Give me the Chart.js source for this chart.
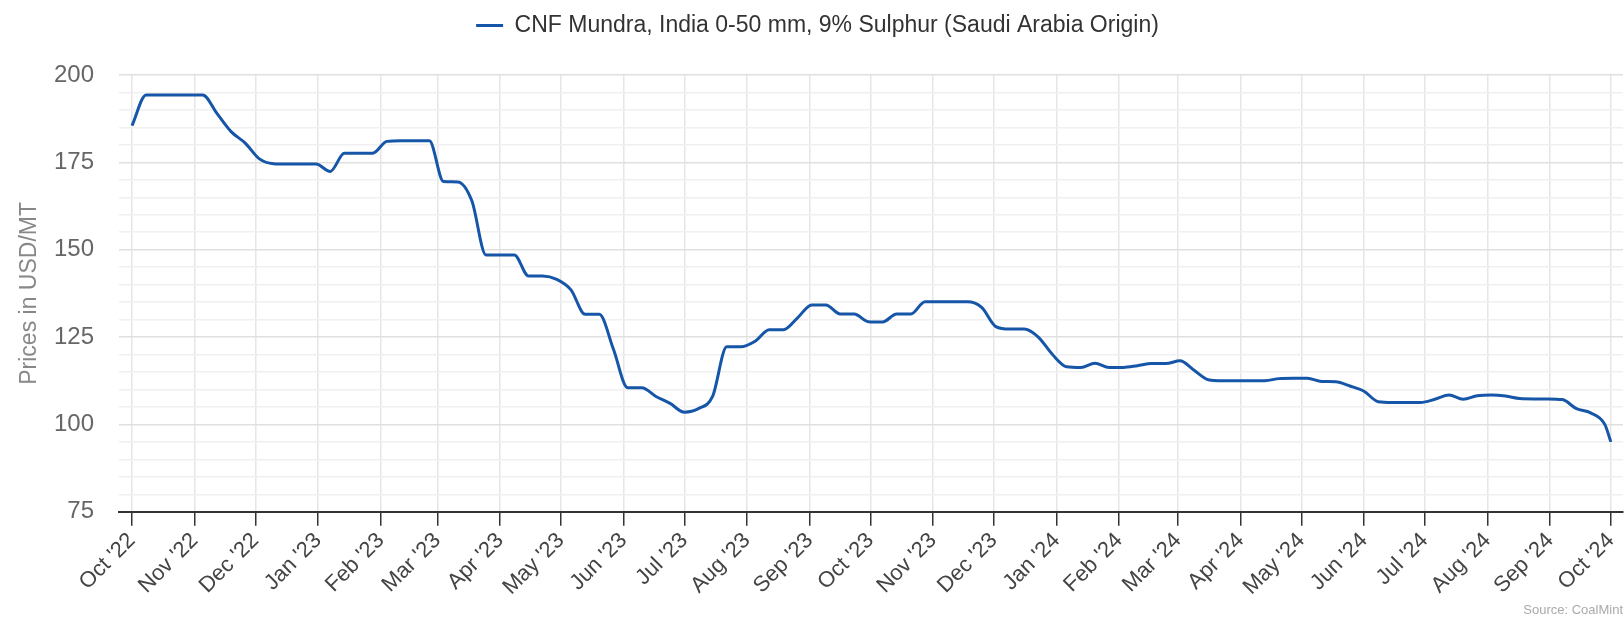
<!DOCTYPE html>
<html>
<head>
<meta charset="utf-8">
<script src="https://cdn.jsdelivr.net/npm/chart.js@4.4.1/dist/chart.umd.min.js"></script>
<style>
	body { margin: 0; background: #fff; }
	#wrap { width: 1624px; height: 626px; }
</style>
</head>
<body>
<div id="wrap"><canvas id="price_chart" width="1624" height="626"></canvas></div>
<script>
// weekly price points, CNF Mundra (USD/MT)
var dates = [
	'2022-10-01','2022-10-08','2022-10-15','2022-10-22','2022-10-29','2022-11-05','2022-11-12','2022-11-19','2022-11-26',
	'2022-12-03','2022-12-10','2022-12-17','2022-12-24','2022-12-31','2023-01-07','2023-01-14','2023-01-21','2023-01-28',
	'2023-02-04','2023-02-11','2023-02-18','2023-02-25','2023-03-04','2023-03-11','2023-03-18','2023-03-25','2023-04-01',
	'2023-04-08','2023-04-15','2023-04-22','2023-04-29','2023-05-06','2023-05-13','2023-05-20','2023-05-27','2023-06-03',
	'2023-06-10','2023-06-17','2023-06-24','2023-07-01','2023-07-08','2023-07-15','2023-07-22','2023-07-29','2023-08-05',
	'2023-08-12','2023-08-19','2023-08-26','2023-09-02','2023-09-09','2023-09-16','2023-09-23','2023-09-30','2023-10-07',
	'2023-10-14','2023-10-21','2023-10-28','2023-11-04','2023-11-11','2023-11-18','2023-11-25','2023-12-02','2023-12-09',
	'2023-12-16','2023-12-23','2023-12-30','2024-01-06','2024-01-13','2024-01-20','2024-01-27','2024-02-03','2024-02-10',
	'2024-02-17','2024-02-24','2024-03-02','2024-03-09','2024-03-16','2024-03-23','2024-03-30','2024-04-06','2024-04-13',
	'2024-04-20','2024-04-27','2024-05-04','2024-05-11','2024-05-18','2024-05-25','2024-06-01','2024-06-08','2024-06-15',
	'2024-06-22','2024-06-29','2024-07-06','2024-07-13','2024-07-20','2024-07-27','2024-08-03','2024-08-10','2024-08-17',
	'2024-08-24','2024-08-31','2024-09-07','2024-09-14','2024-09-21','2024-09-28','2024-10-01'
];
var prices = [
	185.5, 194.3, 194.3, 194.3, 194.3, 194.3, 189, 183.8, 180.5,
	176, 174.6, 174.5, 174.5, 174.5, 172.4, 177.6, 177.6, 177.6,
	181, 181.2, 181.2, 181.2, 169.5, 169.4, 164, 148.5, 148.5,
	148.5, 142.5, 142.5, 141.5, 138.5, 131.5, 131.5, 121.5, 110.5,
	110.5, 108, 106, 103.5, 104.5, 108, 122.2, 122.2, 123.8,
	127.1, 127.1, 130.5, 134.2, 134.2, 131.6, 131.6, 129.4, 129.3,
	131.6, 131.6, 135.1, 135.1, 135.1, 135.1, 133.5, 128, 127.3,
	127.3, 125, 120, 116.5, 116.3, 117.5, 116.3, 116.3, 116.8,
	117.4, 117.4, 118.2, 115.5, 112.8, 112.5, 112.5, 112.5, 112.5,
	113.1, 113.2, 113.2, 112.3, 112.2, 111, 109.5, 106.5, 106.3,
	106.3, 106.3, 107.2, 108.4, 107.2, 108.2, 108.4, 108.1, 107.4,
	107.3, 107.3, 107.1, 104.5, 103.3, 100, 95
];
var seriesName = 'CNF Mundra, India 0-50 mm, 9% Sulphur (Saudi Arabia Origin)';
var tickLabels = [
	"Oct '22","Nov '22","Dec '22","Jan '23","Feb '23","Mar '23","Apr '23","May '23","Jun '23",
	"Jul '23","Aug '23","Sep '23","Oct '23","Nov '23","Dec '23","Jan '24","Feb '24","Mar '24",
	"Apr '24","May '24","Jun '24","Jul '24","Aug '24","Sep '24","Oct '24"
];

var base = Date.UTC(2022, 9, 1);
function dayOf(s){
	var p = s.split('-');
	return (Date.UTC(+p[0], +p[1] - 1, +p[2]) - base) / 864e5;
}

// month start positions for the ticks
var monthTicks = [];
for (var m = 0; m < tickLabels.length; m++) {
	monthTicks.push((Date.UTC(2022, 9 + m, 1) - base) / 864e5);
}

var points = [];
for (var i in dates) {
	points.push({x: dayOf(dates[i]), y: prices[i]});
}

Chart.defaults.font.family = 'Arial, "Liberation Sans", sans-serif';

// extra room under the legend
var legendGap = {
	id: 'legendGap',
	beforeInit: function(chart){
		var fit = chart.legend.fit;
		chart.legend.fit = function(){
			fit.call(this);
			this.height += 28;
		};
	}
};

var ctx = document.getElementById('price_chart');
var priceChart = new Chart(ctx, {
	type: 'line',
	data: {
		datasets: [{
			label: seriesName,
			data: points,
			borderColor: '#1656a8',
			backgroundColor: '#1656a8',
			borderWidth: 3,
			pointRadius: 0,
			cubicInterpolationMode: 'monotone',
			fill: false
		}]
	},
	plugins: [legendGap],
	options: {
		responsive: false,
		animation: false,
		layout: { padding: { top: 4, right: 1, bottom: 8, left: 12 } },
		plugins: {
			legend: {
				position: 'top',
				labels: {
					usePointStyle: true,
					pointStyle: 'line',
					pointStyleWidth: 27,
					color: '#333',
					font: { size: 23 },
					padding: 10
				}
			},
			title: {
				display: true,
				position: 'bottom',
				align: 'end',
				text: 'Source: CoalMint',
				color: '#aaa',
				font: { size: 13, weight: 'normal' },
				padding: { top: 0, bottom: 0 }
			},
			tooltip: { enabled: false }
		},
		scales: {
			x: {
				type: 'linear',
				min: -6.4,
				max: 737,
				afterBuildTicks: function(axis){
					axis.ticks = monthTicks.map(function(v){ return {value: v}; });
				},
				afterFit: function(axis){
					axis.paddingLeft = 0;
					axis.paddingRight = 0;
				},
				ticks: {
					autoSkip: false,
					maxRotation: 45,
					minRotation: 45,
					color: '#444',
					font: { size: 22 },
					padding: 2,
					callback: function(v){
						var k = monthTicks.indexOf(v);
						return k >= 0 ? tickLabels[k] : '';
					}
				},
				grid: {
					color: '#e6e6e6',
					tickColor: '#333',
					tickLength: 14,
					lineWidth: 1.5
				},
				border: { color: '#333', width: 2 }
			},
			y: {
				min: 75,
				max: 200,
				afterFit: function(axis){
					axis.width = 107;
				},
				ticks: {
					stepSize: 5,
					autoSkip: false,
					color: '#666',
					font: { size: 24 },
					padding: 25,
					callback: function(v){ return v % 25 === 0 ? v : ''; }
				},
				grid: {
					drawTicks: false,
					lineWidth: 1.5,
					color: function(c){ return c.tick && c.tick.value % 25 === 0 ? '#e0e0e0' : '#f0f0f0'; }
				},
				border: { display: false },
				title: {
					display: true,
					text: 'Prices in USD/MT',
					color: '#888',
					font: { size: 23 },
					padding: 4
				}
			}
		}
	}
});
</script>
</body>
</html>
